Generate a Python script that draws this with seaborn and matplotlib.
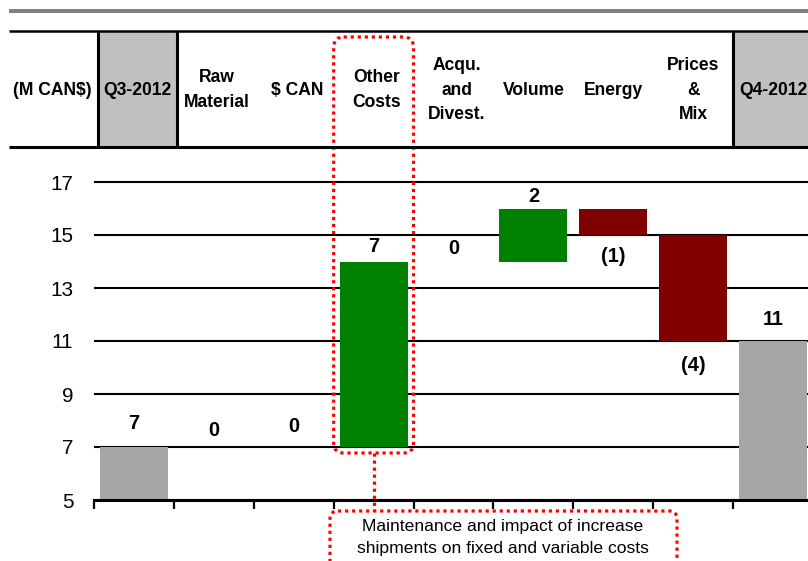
import numpy as np
import matplotlib
matplotlib.use("Agg")
import matplotlib.pyplot as plt
import seaborn as sns
from matplotlib import font_manager as fm
from matplotlib.patches import FancyBboxPatch, Rectangle

# ---------------- data ----------------
categories = ["Q3-2012", "Raw Material", "$ CAN", "Other Costs", "Acqu. and Divest.",
              "Volume", "Energy", "Prices & Mix", "Q4-2012"]
header_labels = ["Q3-2012", "Raw\nMaterial", "$ CAN", "Other\nCosts", "Acqu.\nand\nDivest.",
                 "Volume", "Energy", "Prices\n&\nMix", "Q4-2012"]
changes = [7, 0, 0, 7, 0, 2, -1, -4, 11]
kinds = ["total", "delta", "delta", "delta", "delta", "delta", "delta", "delta", "total"]
unit_label = "(M CAN$)"
note_text = "Maintenance and impact of increase\nshipments on fixed and variable costs"
y_ticks = [5, 7, 9, 11, 13, 15, 17]

# label gaps (pixels) between bar end and its value label, as placed in the original
label_gap_px = [14, 7, 11, 6, 3, 3, 12, 15, 12]

COL_TOTAL = "#A6A6A6"
COL_POS = "#008000"
COL_NEG = "#800000"

# ---------------- fonts ----------------
sns.set_theme(style="white")
names = {f.name for f in fm.fontManager.ttflist}
if "Liberation Sans Narrow" in names:
    FONT = "Liberation Sans Narrow"
    k = 1.0
    kh = 1.0
else:
    FONT = "Liberation Sans"
    k = 0.9
    kh = 0.87
plt.rcParams["font.family"] = [FONT, "DejaVu Sans"]

# ---------------- waterfall geometry ----------------
bottoms, heights, colors, labels, anchors, above = [], [], [], [], [], []
running = 0
for c, kind in zip(changes, kinds):
    if kind == "total":
        bottoms.append(0)
        heights.append(c)
        colors.append(COL_TOTAL)
        running = c
        labels.append(str(c))
        anchors.append(c)
        above.append(True)
    else:
        b = running if c >= 0 else running + c
        bottoms.append(b)
        heights.append(abs(c))
        colors.append(COL_POS if c >= 0 else COL_NEG)
        running += c
        labels.append(str(c) if c >= 0 else f"({abs(c)})")
        anchors.append(running)
        above.append(c >= 0)

# ---------------- figure ----------------
W, H = 808, 561
fig = plt.figure(figsize=(W / 100, H / 100), dpi=100)
fig.patch.set_facecolor("white")

ax = fig.add_axes([94 / W, (H - 500) / H, (813 - 94) / W, (500 - 168.75) / H])
sns.barplot(x=categories, y=heights, hue=categories, palette=colors, legend=False,
            width=0.85, saturation=1, ax=ax, zorder=3)
for i, p in enumerate(ax.patches[:len(categories)]):
    p.set_y(bottoms[i])
    p.set_height(heights[i])
    p.set_edgecolor("none")

ax.set_xlim(-0.5, len(categories) - 0.5)
ax.set_ylim(5, 17.5)
ax.set_axisbelow(True)
for s in ["top", "right", "left"]:
    ax.spines[s].set_visible(False)
ax.spines["bottom"].set_color("black")
ax.spines["bottom"].set_linewidth(2.2)
ax.spines["bottom"].set_zorder(4)

ax.set_yticks(y_ticks)
ax.set_yticklabels([str(v) for v in y_ticks], fontsize=16.5 * k, color="black")
ax.yaxis.grid(True, color="black", linewidth=1.5)
ax.xaxis.grid(False)
ax.tick_params(axis="y", length=0, pad=15)
ax.set_xticks(np.arange(-0.5, len(categories), 1.0))
ax.set_xticklabels([])
ax.tick_params(axis="x", direction="out", length=6.5, width=1.6, color="black", bottom=True)
ax.set_xlabel("")
ax.set_ylabel("")

# data labels
PT = 72 / 100.0
for i, (lab, a, up) in enumerate(zip(labels, anchors, above)):
    off = label_gap_px[i] * PT
    if up:
        ax.annotate(lab, (i, a), xytext=(0, off), textcoords="offset points",
                    ha="center", va="bottom", fontsize=16 * k, fontweight="bold", color="black")
    else:
        ax.annotate(lab, (i, a), xytext=(0, -off), textcoords="offset points",
                    ha="center", va="top", fontsize=16 * k, fontweight="bold", color="black")

# ---------------- overlay (header + call-out) ----------------
ov = fig.add_axes([0, 0, 1, 1], zorder=5)
ov.set_xlim(0, W)
ov.set_ylim(H, 0)
ov.axis("off")
ov.patch.set_alpha(0)


def to_px(x, y=5):
    d = ax.transData.transform((x, y))
    return ov.transData.inverted().transform(d)


# top gray rule
ov.add_patch(Rectangle((9, 8.5), W - 9, 4, color="#808080", lw=0))
# header cells
ov.add_patch(Rectangle((98, 31), 79, 116, color="#C0C0C0", lw=0))
ov.add_patch(Rectangle((733, 31), W - 733, 116, color="#C0C0C0", lw=0))
ov.plot([9, W], [31, 31], color="black", lw=1.8, solid_capstyle="butt")
ov.plot([9, W], [147, 147], color="black", lw=2.2, solid_capstyle="butt")
for xv in [98, 177, 733]:
    ov.plot([xv, xv], [31, 147], color="black", lw=2.2, solid_capstyle="butt")

ov.text(52, 90, unit_label, ha="center", va="center", fontsize=14.5 * kh,
        fontweight="bold", color="black")
for i, lab in enumerate(header_labels):
    cx = to_px(i)[0] + (3 if i < 5 else 0)
    ov.text(cx, 90, lab, ha="center", va="center", fontsize=14.5 * kh, fontweight="bold",
            color="black", linespacing=1.55, multialignment="center")

# red dotted highlight around "Other Costs"
dot = dict(fill=False, ec="#FF0000", lw=2.3, ls=(0, (1, 1.2)))
x0 = to_px(2.5)[0]
x1 = to_px(3.5)[0]
yb = to_px(3, 7)[1] + 6
ov.add_patch(FancyBboxPatch((x0, 37), x1 - x0, yb - 37,
                            boxstyle="round,pad=0,rounding_size=10", **dot))
xc = to_px(3)[0]
ov.plot([xc, xc], [yb, 511], color="#FF0000", lw=2.3, ls=(0, (1, 1.2)))
ov.add_patch(FancyBboxPatch((330, 511), 347, 70,
                            boxstyle="round,pad=0,rounding_size=8", **dot))
ov.text(503, 537.5, note_text, ha="center", va="center", fontsize=14 * k,
        color="black", linespacing=1.5)

fig.savefig("out.png", dpi=100)
